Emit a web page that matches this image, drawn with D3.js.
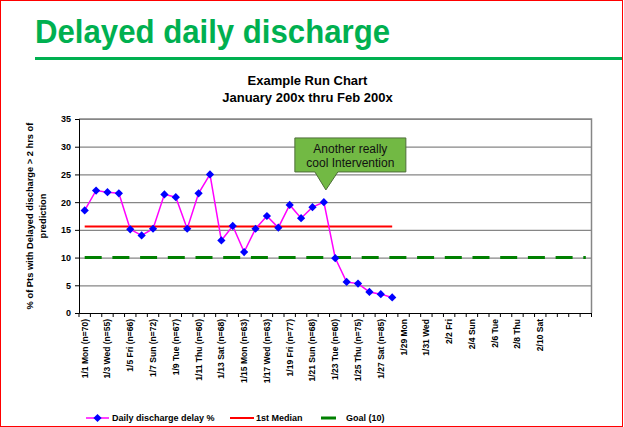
<!DOCTYPE html>
<html>
<head>
<meta charset="utf-8">
<script src="https://cdn.jsdelivr.net/npm/d3@7"></script>
<style>
  body { margin: 0; background: #fff; }
  svg { display: block; font-family: "Liberation Sans", Arial, sans-serif; }
</style>
</head>
<body>
<div id="chart-area"></div>
<script>

// categories: one per day, 1/1 thru 2/14
let days = ["1/1","1/2","1/3","1/4","1/5","1/6","1/7","1/8","1/9","1/10",
	"1/11","1/12","1/13","1/14","1/15","1/16","1/17","1/18","1/19","1/20",
	"1/21","1/22","1/23","1/24","1/25","1/26","1/27","1/28","1/29","1/30",
	"1/31","2/1","2/2","2/3","2/4","2/5","2/6","2/7","2/8","2/9",
	"2/10","2/11","2/12","2/13","2/14"];

// every other day gets a label
let labelDays = ["1/1","1/3","1/5","1/7","1/9","1/11","1/13","1/15","1/17","1/19",
	"1/21","1/23","1/25","1/27","1/29","1/31","2/2","2/4","2/6","2/8","2/10"];
let labelTexts = ["1/1 Mon (n=70)","1/3 Wed (n=55)","1/5 Fri (n=66)","1/7 Sun (n=72)",
	"1/9 Tue (n=67)","1/11 Thu (n=60)","1/13 Sat (n=68)","1/15 Mon (n=63)",
	"1/17 Wed (n=63)","1/19 Fri (n=77)","1/21 Sun (n=68)","1/23 Tue (n=60)",
	"1/25 Thu (n=75)","1/27 Sat (n=85)","1/29 Mon","1/31 Wed","2/2 Fri",
	"2/4 Sun","2/6 Tue","2/8 Thu","2/10 Sat"];

// daily discharge delay %, 1/1 .. 1/28
let delayPct = [18.5, 22.1, 21.8, 21.6, 15.1, 14.0, 15.2, 21.4, 20.9, 15.2,
	21.6, 25.0, 13.1, 15.7, 11.0, 15.2, 17.5, 15.4, 19.5, 17.1,
	19.1, 20.0, 9.9, 5.6, 5.3, 3.8, 3.4, 2.8];

let medianValue = 15.6;   // 1st median, over the measured days
let goalValue = 10;       // goal, over all days
let yTicks = [0, 5, 10, 15, 20, 25, 30, 35];

let interventionDay = "1/22";
let interventionText = ["Another really", "cool Intervention"];

let W = 624, H = 427;
let plot = {left: 79, right: 591.5, top: 119, bottom: 313};

let green = "#00B050",
	pink = "#FF00FF",
	blue = "#0000FF",
	gridGray = "#868686";

let svg = d3.select("#chart-area").append("svg")
	.attr("width", W)
	.attr("height", H);

svg.append("rect")
	.attr("x", 0.5).attr("y", 0.5)
	.attr("width", W - 2).attr("height", H - 1)
	.attr("fill", "#fff")
	.attr("stroke", "#FF0000")
	.attr("stroke-width", 1);

// slide title + rule
svg.append("text")
	.attr("x", 35).attr("y", 43)
	.attr("fill", green)
	.attr("font-size", 33)
	.attr("font-weight", "bold")
	.attr("textLength", 355)
	.attr("lengthAdjust", "spacingAndGlyphs")
	.text("Delayed daily discharge");

svg.append("line")
	.attr("x1", 35).attr("x2", W - 2)
	.attr("y1", 58.5).attr("y2", 58.5)
	.attr("stroke", green)
	.attr("stroke-width", 3);

// chart title
let titleG = svg.append("g")
	.attr("font-size", 13)
	.attr("font-weight", "bold")
	.attr("text-anchor", "middle");
titleG.append("text").attr("x", 307.5).attr("y", 85).text("Example Run Chart");
titleG.append("text").attr("x", 307.5).attr("y", 102).text("January 200x thru Feb 200x");

// scales
let x = d3.scaleBand()
	.domain(days)
	.range([plot.left, plot.right]);

let y = d3.scaleLinear()
	.domain([0, 35])
	.range([plot.bottom, plot.top]);

let cx = d => x(d) + x.bandwidth() / 2;

// gridlines
svg.append("g")
	.attr("class", "grid")
	.attr("transform", "translate(" + plot.left + ",0)")
	.call(d3.axisLeft(y).tickValues(yTicks).tickSize(-(plot.right - plot.left)).tickFormat(""))
	.call(g => g.select(".domain").remove())
	.call(g => g.selectAll("line").attr("stroke", gridGray).attr("stroke-width", 1.2));

// plot border (top / right)
svg.append("path")
	.attr("d", "M" + plot.left + "," + plot.top + "H" + plot.right + "V" + plot.bottom)
	.attr("fill", "none")
	.attr("stroke", gridGray)
	.attr("stroke-width", 1.5);

// y axis
svg.append("g")
	.attr("transform", "translate(" + plot.left + ",0)")
	.call(d3.axisLeft(y).tickValues(yTicks).tickSize(4).tickPadding(4).tickFormat(d3.format("d")))
	.call(g => g.select(".domain").attr("stroke", "#000"))
	.call(g => g.selectAll("text")
		.attr("font-size", 9)
		.attr("font-weight", "bold")
		.attr("font-family", "Liberation Sans, Arial, sans-serif")
		.attr("fill", "#000"));

// x axis: tick marks between categories
svg.append("g")
	.selectAll("line")
	.data(days.concat(["end"]))
	.join("line")
	.attr("x1", d => d === "end" ? plot.right : x(d))
	.attr("x2", d => d === "end" ? plot.right : x(d))
	.attr("y1", plot.bottom)
	.attr("y2", plot.bottom + 4)
	.attr("stroke", "#000");

svg.append("g")
	.attr("transform", "translate(0," + plot.bottom + ")")
	.call(d3.axisBottom(x)
		.tickValues(labelDays)
		.tickSize(0)
		.tickFormat(d => labelTexts[labelDays.indexOf(d)]))
	.call(g => g.select(".domain").attr("stroke", "#000").attr("stroke-width", 1.2))
	.call(g => g.selectAll("text")
		.attr("transform", "rotate(-90)")
		.attr("x", -6)
		.attr("y", 0)
		.attr("dy", "0.35em")
		.attr("text-anchor", "end")
		.attr("font-size", 8.5)
		.attr("font-weight", "bold")
		.attr("font-family", "Liberation Sans, Arial, sans-serif")
		.attr("fill", "#000"));

// y axis title
let yTitle = svg.append("text")
	.attr("transform", "translate(30," + ((plot.top + plot.bottom) / 2) + ") rotate(-90)")
	.attr("text-anchor", "middle")
	.attr("font-size", 9.3)
	.attr("font-weight", "bold");
yTitle.append("tspan").attr("x", 0).attr("dy", "0.35em").text("% of Pts with Delayed discharge > 2 hrs of");
yTitle.append("tspan").attr("x", 0).attr("dy", "1.4em").text("prediction");

// goal line
svg.append("path")
	.datum(days)
	.attr("fill", "none")
	.attr("stroke", "#008000")
	.attr("stroke-width", 3)
	.attr("stroke-dasharray", "17,10.7")
	.attr("d", d3.line().x(d => cx(d)).y(() => y(goalValue)));

// 1st median
let measuredDays = days.slice(0, delayPct.length);
svg.append("path")
	.datum(measuredDays)
	.attr("fill", "none")
	.attr("stroke", "#FF0000")
	.attr("stroke-width", 2)
	.attr("d", d3.line().x(d => cx(d)).y(() => y(medianValue)));

// data series
let series = delayPct.map((v, i) => ({day: days[i], value: v}));

svg.append("path")
	.datum(series)
	.attr("fill", "none")
	.attr("stroke", pink)
	.attr("stroke-width", 1.5)
	.attr("d", d3.line().x(d => cx(d.day)).y(d => y(d.value)));

let diamond = d3.symbol().type(d3.symbolSquare).size(34);

svg.append("g")
	.selectAll("path")
	.data(series)
	.join("path")
	.attr("d", diamond)
	.attr("transform", d => "translate(" + cx(d.day) + "," + y(d.value) + ") rotate(45)")
	.attr("fill", blue);

// callout
let tipX = cx(interventionDay) + 2,
	tipY = y(22.2),
	boxL = tipX - 31, boxR = tipX + 80,
	boxT = tipY - 52, boxB = tipY - 18;

svg.append("path")
	.attr("d", "M" + boxL + "," + boxT + "H" + boxR + "V" + boxB +
		"H" + (tipX + 12) + "L" + tipX + "," + tipY + "L" + (tipX - 11) + "," + boxB +
		"H" + boxL + "Z")
	.attr("fill", "#72B944")
	.attr("stroke", "#4F6E3A")
	.attr("stroke-width", 1);

svg.append("g")
	.attr("font-size", 12)
	.attr("fill", "#111")
	.attr("text-anchor", "middle")
	.selectAll("text")
	.data(interventionText)
	.join("text")
	.attr("x", (boxL + boxR) / 2)
	.attr("y", (d, i) => boxT + 15 + i * 14)
	.text(d => d);

// legend
let legend = svg.append("g")
	.attr("font-size", 9)
	.attr("font-weight", "bold");

legend.append("line").attr("x1", 86).attr("x2", 109).attr("y1", 418).attr("y2", 418)
	.attr("stroke", pink).attr("stroke-width", 1.5);
legend.append("path").attr("d", diamond)
	.attr("transform", "translate(97.5,418) rotate(45)").attr("fill", blue);
legend.append("text").attr("x", 112).attr("y", 421).text("Daily discharge delay %");

legend.append("line").attr("x1", 230).attr("x2", 254).attr("y1", 418).attr("y2", 418)
	.attr("stroke", "#FF0000").attr("stroke-width", 2);
legend.append("text").attr("x", 256).attr("y", 421).text("1st Median");

legend.append("line").attr("x1", 321).attr("x2", 336).attr("y1", 418).attr("y2", 418)
	.attr("stroke", "#008000").attr("stroke-width", 3);
legend.append("text").attr("x", 346).attr("y", 421).text("Goal (10)");

</script>
</body>
</html>
